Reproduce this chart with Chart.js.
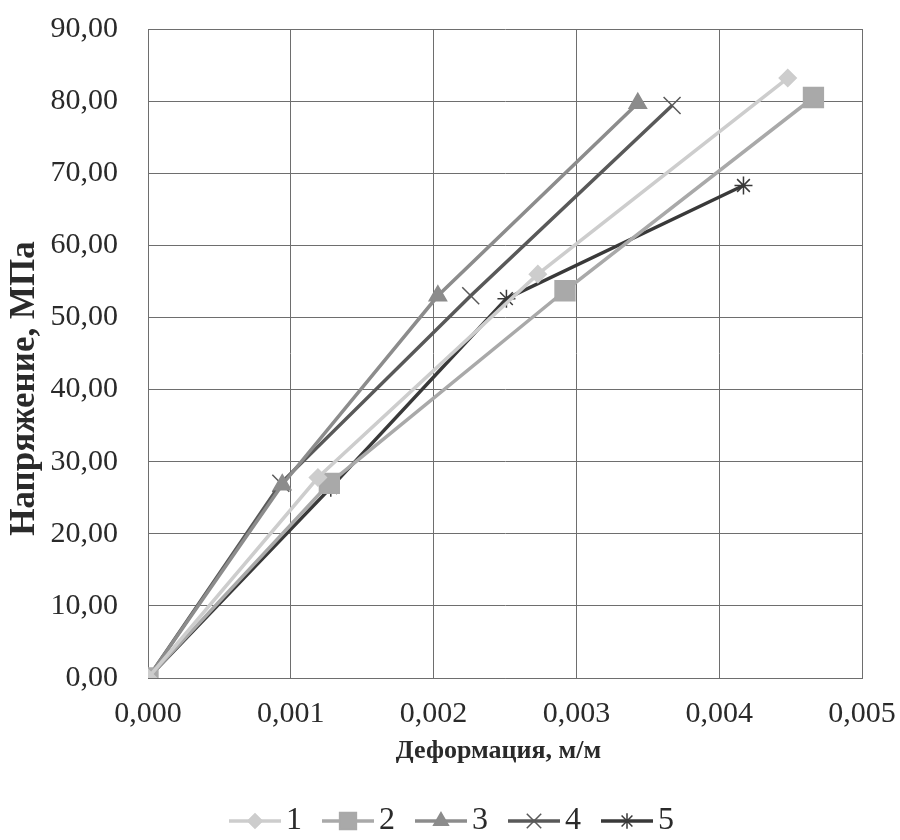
<!DOCTYPE html>
<html>
<head>
<meta charset="utf-8">
<script src="https://cdn.jsdelivr.net/npm/chart.js@4/dist/chart.umd.min.js"></script>
<style>
  html, body { margin: 0; padding: 0; background: #fff; }
  #wrap { width: 900px; height: 840px; }
</style>
</head>
<body>
<div id="wrap"><canvas id="chart" width="900" height="840"></canvas></div>
<script>
const seriesNames = ['1', '2', '3', '4', '5'];
const strain1 = [0, 0.00119, 0.00273, 0.00448];
const stress1 = [0, 27.8, 56.0, 83.2];
const strain2 = [0, 0.00127, 0.00292, 0.00466];
const stress2 = [0, 27.0, 53.7, 80.5];
const strain3 = [0, 0.00094, 0.00203, 0.00343];
const stress3 = [0, 26.8, 53.0, 79.7];
const strain4 = [0, 0.00093, 0.00226, 0.00367];
const stress4 = [0, 27.0, 53.0, 79.4];
const strain5 = [0, 0.00128, 0.00251, 0.00417];
const stress5 = [0, 26.4, 52.6, 68.3];
const xTicks = [0, 0.001, 0.002, 0.003, 0.004, 0.005];
const yTicks = [0, 10, 20, 30, 40, 50, 60, 70, 80, 90];

const colors = ['#cdcdcd', '#a9a9a9', '#8c8c8c', '#595959', '#393939'];
const markers = ['rectRot', 'rect', 'triangle', 'crossRot', 'star'];
const markerSize = [8.5, 14, 10, 12, 9];

function toPoints(xs, ys) {
    return xs.map((x, i) => ({ x: x, y: ys[i] }));
}

const allX = [strain1, strain2, strain3, strain4, strain5];
const allY = [stress1, stress2, stress3, stress4, stress5];

// little picture of line + marker, used as legend symbol
function legendIcon(i) {
    const c = document.createElement('canvas');
    c.width = 64; c.height = 26;
    const g = c.getContext('2d');
    g.strokeStyle = colors[i];
    g.fillStyle = colors[i];
    g.lineWidth = 3.5;
    g.beginPath(); g.moveTo(11, 13); g.lineTo(63, 13); g.stroke();
    g.lineWidth = 1.5;
    Chart.helpers.drawPoint(g, {
        pointStyle: markers[i], radius: markerSize[i] * 0.85, borderWidth: 1.5, rotation: 0
    }, 37, 13);
    return c;
}

const serif = '"Liberation Serif", "DejaVu Serif", serif';
Chart.defaults.font.family = serif;
Chart.defaults.color = '#2a2a2a';

const datasets = seriesNames.map((name, i) => ({
    label: name,
    data: toPoints(allX[i], allY[i]),
    borderColor: colors[i],
    backgroundColor: colors[i],
    pointBorderColor: colors[i],
    pointBackgroundColor: colors[i],
    pointStyle: markers[i],
    pointRadius: markerSize[i],
    pointBorderWidth: 1.5,
    borderWidth: 3.5,
    showLine: true,
    tension: 0,
    fill: false
}));

new Chart(document.getElementById('chart').getContext('2d'), {
    type: 'scatter',
    data: { datasets: datasets },
    plugins: [{
        id: 'legendIcons',
        beforeInit(chart) {
            chart.$icons = seriesNames.map((n, i) => legendIcon(i));
        }
    }],
    options: {
        responsive: false,
        animation: false,
        layout: { padding: { left: 4, right: 0, top: 29, bottom: -7 } },
        plugins: {
            tooltip: { enabled: false },
            legend: {
                position: 'bottom',
                labels: {
                    usePointStyle: true,
                    pointStyleWidth: 40,
                    padding: 21,
                    color: '#2a2a2a',
                    font: { size: 32, family: serif },
                    generateLabels(chart) {
                        return chart.data.datasets.map((ds, i) => ({
                            text: ds.label,
                            pointStyle: chart.$icons[i],
                            fillStyle: colors[i],
                            strokeStyle: colors[i],
                            lineWidth: 0,
                            hidden: false,
                            datasetIndex: i,
                            fontColor: '#2a2a2a'
                        }));
                    }
                }
            }
        },
        scales: {
            x: {
                type: 'linear',
                min: 0,
                max: 0.005,
                afterBuildTicks(axis) { axis.ticks = xTicks.map(v => ({ value: v })); },
                afterFit(axis) {
                    axis.height = 106;
                    axis.paddingLeft = 0;
                    axis.paddingRight = 38;
                },
                ticks: {
                    font: { size: 30 },
                    color: '#2a2a2a',
                    padding: 18,
                    callback: v => v.toFixed(3).replace('.', ',')
                },
                grid: { color: '#6e6e6e', lineWidth: 1, drawTicks: false },
                border: { color: '#6e6e6e' },
                title: {
                    display: true,
                    text: 'Деформация, м/м  ',
                    font: { size: 26, weight: 'bold' },
                    color: '#2a2a2a',
                    padding: { top: 0, bottom: 17 }
                }
            },
            y: {
                type: 'linear',
                min: 0,
                max: 90,
                afterBuildTicks(axis) { axis.ticks = yTicks.map(v => ({ value: v })); },
                afterFit(axis) {
                    axis.width = 144;
                    axis.paddingTop = 0;
                    axis.paddingBottom = 0;
                },
                ticks: {
                    font: { size: 30 },
                    color: '#2a2a2a',
                    padding: 30,
                    callback: v => v.toFixed(2).replace('.', ',')
                },
                grid: { color: '#6e6e6e', lineWidth: 1, drawTicks: false },
                border: { color: '#6e6e6e' },
                title: {
                    display: true,
                    text: 'Напряжение, МПа        ',
                    font: { size: 35, weight: 'bold' },
                    color: '#2a2a2a',
                    padding: { top: 0, bottom: 0 }
                }
            }
        }
    }
});
</script>
</body>
</html>
